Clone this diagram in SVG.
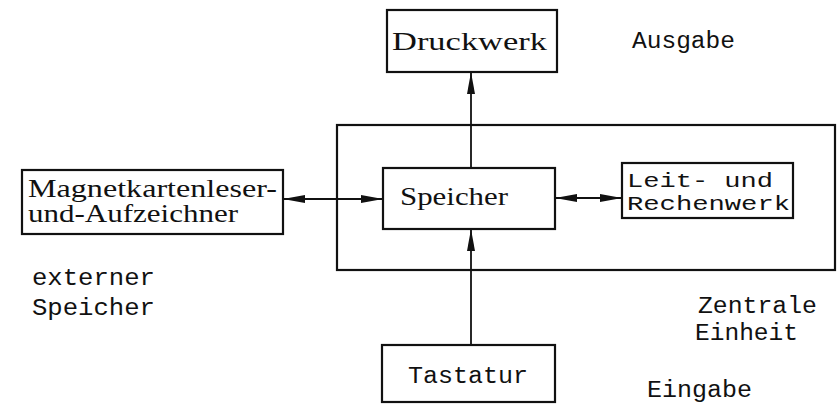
<svg xmlns="http://www.w3.org/2000/svg" width="839" height="404" viewBox="0 0 839 404">
  <style>
    .box { fill: none; stroke: #111; stroke-width: 2.2; }
    .wire { fill: none; stroke: #111; stroke-width: 1.8; }
    .serif { font-family: "Liberation Serif", "DejaVu Serif", serif; font-size: 25px; fill: #111; }
    .mono { font-family: "Liberation Mono", "DejaVu Sans Mono", monospace; font-size: 23px; fill: #111; }
    .small { font-size: 20px; }
  </style>
  <defs>
    <marker id="head" viewBox="0 0 22 9" refX="22" refY="4.5" markerWidth="22" markerHeight="9" markerUnits="userSpaceOnUse" orient="auto-start-reverse">
      <path d="M0,0.5 L22,4.5 L0,8.5 z" fill="#111"/>
    </marker>
  </defs>

  <rect width="839" height="404" fill="#fff"/>

  <!-- central unit frame -->
  <g id="zentrale-einheit">
    <rect class="box" x="337" y="125" width="498" height="145"/>
    <text class="mono" x="698" y="313" textLength="119" lengthAdjust="spacingAndGlyphs">Zentrale</text>
    <text class="mono" x="695" y="340" textLength="103" lengthAdjust="spacingAndGlyphs">Einheit</text>
  </g>

  <!-- connectors -->
  <g id="connectors">
    <line class="wire" x1="471" y1="168" x2="471" y2="72" marker-end="url(#head)"/>
    <line class="wire" x1="471" y1="345" x2="471" y2="229" marker-end="url(#head)"/>
    <line class="wire" x1="283" y1="199" x2="383" y2="199" marker-start="url(#head)" marker-end="url(#head)"/>
    <line class="wire" x1="555" y1="198" x2="622" y2="198" marker-start="url(#head)" marker-end="url(#head)"/>
  </g>

  <g id="druckwerk">
    <rect class="box" x="387" y="10" width="170" height="62"/>
    <text class="serif" x="392" y="50" textLength="155" lengthAdjust="spacingAndGlyphs">Druckwerk</text>
  </g>

  <g id="ausgabe">
    <text class="mono" x="632" y="48" textLength="103" lengthAdjust="spacingAndGlyphs">Ausgabe</text>
  </g>

  <g id="magnetkarten">
    <rect class="box" x="22" y="170" width="261" height="64"/>
    <text class="serif" x="28" y="197" textLength="249" lengthAdjust="spacingAndGlyphs">Magnetkartenleser-</text>
    <text class="serif" x="28" y="222" textLength="210" lengthAdjust="spacingAndGlyphs">und-Aufzeichner</text>
  </g>

  <g id="externer-speicher">
    <text class="mono" x="32" y="285" textLength="123" lengthAdjust="spacingAndGlyphs">externer</text>
    <text class="mono" x="32" y="315" textLength="123" lengthAdjust="spacingAndGlyphs">Speicher</text>
  </g>

  <g id="speicher">
    <rect class="box" x="383" y="168" width="172" height="61"/>
    <text class="serif" x="400" y="205" textLength="108" lengthAdjust="spacingAndGlyphs">Speicher</text>
  </g>

  <g id="leitwerk">
    <rect class="box" x="622" y="163" width="171" height="55"/>
    <text class="mono small" x="627" y="187" textLength="146" lengthAdjust="spacingAndGlyphs">Leit- und</text>
    <text class="mono small" x="627" y="210" textLength="163" lengthAdjust="spacingAndGlyphs">Rechenwerk</text>
  </g>

  <g id="tastatur">
    <rect class="box" x="382" y="345" width="173" height="57"/>
    <text class="mono" x="408" y="383" textLength="120" lengthAdjust="spacingAndGlyphs">Tastatur</text>
  </g>

  <g id="eingabe">
    <text class="mono" x="647" y="397" textLength="105" lengthAdjust="spacingAndGlyphs">Eingabe</text>
  </g>
</svg>
